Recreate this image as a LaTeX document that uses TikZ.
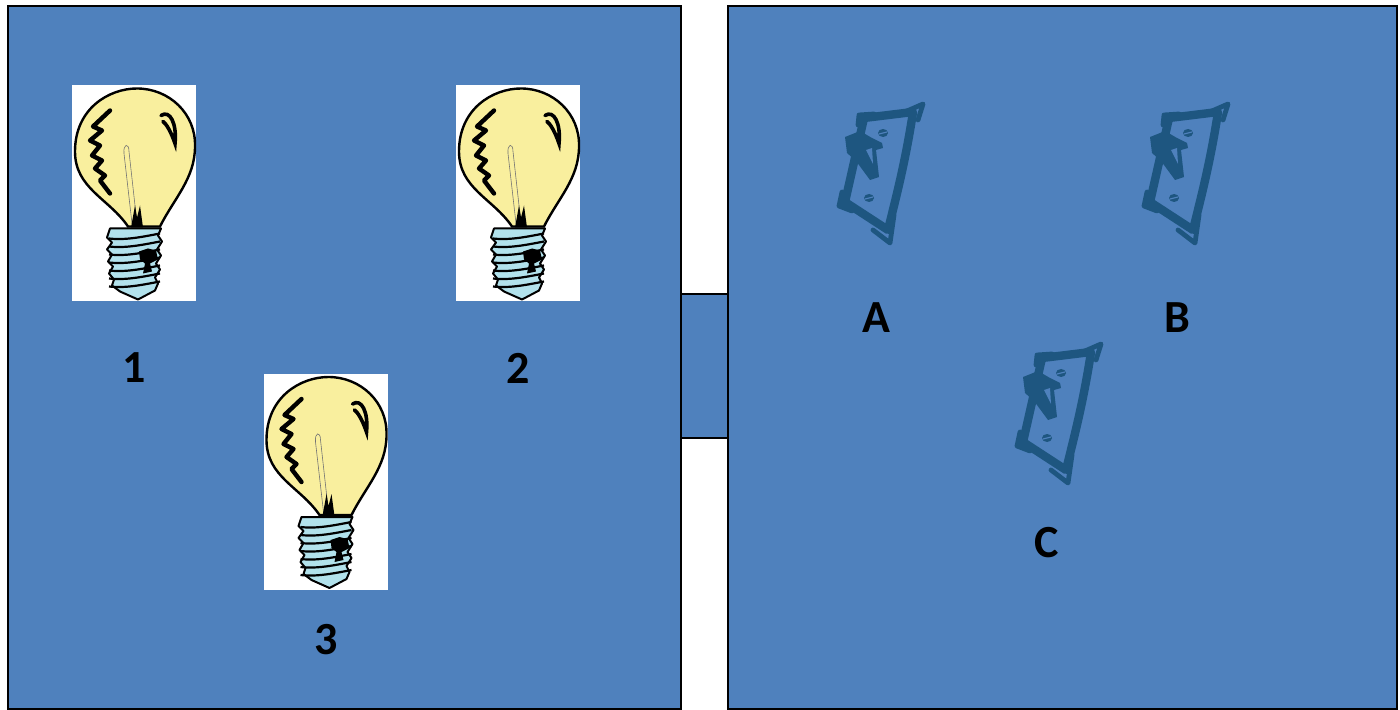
\documentclass[tikz,border=0pt]{standalone}
\usepackage{fontspec}
\setmainfont{Carlito}
\definecolor{slate}{HTML}{4F81BD}
\definecolor{glass}{HTML}{F9EF9E}
\definecolor{thread}{HTML}{B2E2EC}
\definecolor{plate}{HTML}{1E5680}
\tikzset{
  panel/.style={draw=black,fill=slate,line width=1.1pt},
  bulbcard/.style={fill=white,draw=none,minimum width=62pt,minimum height=108pt,inner sep=0pt},
  tag/.style={font=\fontsize{23}{27}\selectfont\bfseries,text=black,inner sep=0pt},
  tick/.style={draw=plate,line width=2.4pt,line join=round,line cap=round},
  bulb/.pic={
    % glass
    \draw[line width=1.2pt,fill=glass] (-6,33) .. controls (-25,5) and (-59,-5) .. (-59,-42)
      .. controls (-59,-85) and (-25,-105) .. (3,-105)
      .. controls (35,-105) and (62,-80) .. (61,-47)
      .. controls (61,-15) and (40,5) .. (26,33) -- cycle;
    % filament
    \draw[line width=0.3pt,black!55] (-2,30) -- (-10,-40) .. controls (-11,-50) and (-5,-51) .. (-5,-42) -- (3,30);
    \fill (-3,34) -- (1,12) -- (3,24) -- (6,12) -- (9,34) -- cycle;
    % reflections
    \draw[line width=2.2pt,line join=round,line cap=round] (-24,-83) -- (-41,-67) -- (-32,-63) -- (-44,-53)
      -- (-34,-48) -- (-42,-38) -- (-32,-33) -- (-39,-25) -- (-29,-18) -- (-34,-13) -- (-24,0);
    \draw[line width=1.8pt,line cap=round] (27,-78) .. controls (36,-84) and (43,-70) .. (41,-50)
      .. controls (37,-62) and (32,-70) .. (29,-72);
    % screw base
    \draw[line width=1pt,fill=thread,line join=round] (-24,35) -- (-27,44) -- (-22,49) -- (-27,56) -- (-22,61)
      -- (-26,68) -- (-21,73) -- (-25,80) -- (-20,86) -- (-22,92) -- (-14,98) -- (4,106) -- (21,97)
      -- (24,90) -- (21,84) -- (26,76) -- (22,70) -- (27,62) -- (23,56) -- (28,48) -- (24,42) -- (27,35) -- cycle;
    \foreach \y in {43,51,59,67,75,83,91}
      \draw[line width=1.1pt] (-25,\y+2) .. controls (-8,\y+4) and (10,\y) .. (26,\y-3);
    \fill (5,58) -- (14,55) -- (22,57) -- (24,66) -- (16,70) -- (18,78) -- (9,80) -- (11,70) -- (6,66) -- cycle;
  },
  toggle/.pic={
    % plate
    \draw[draw=plate,line width=4.2pt,line join=round] (-16,-57) -- (33,-63)
      .. controls (25,-10) and (14,30) .. (8,55) -- (-35,27) -- cycle;
    % corner ticks
    \draw[tick] (27,-64) -- (43,-71) -- (38,-55);
    \draw[tick] (-6,-61) -- (-21,-60) -- (-22,-50);
    \draw[tick] (-38,17) -- (-41,31) -- (-28,36);
    \draw[tick] (14,40) -- (10,68) -- (-7,55);
    % lever
    \fill[plate] (-35,-38) -- (-20,-44) -- (-8,-37) -- (2,-32) -- (3,-27) -- (-4,-25) -- (-1,2)
      -- (-10,5) -- (-24,-14) -- (-33,-22) -- cycle;
    \fill[slate] (-14,-25) -- (-8,-27) -- (-7,-11) -- cycle;
    % screws
    \fill[plate] (3,-42) ellipse (5 and 4);
    \fill[plate] (-11,23) ellipse (5 and 4);
    \draw[slate,line width=0.6pt] (-1,-41) -- (7,-43) (-15,24) -- (-7,22);
  }
}

\begin{document}
\begin{tikzpicture}[x=0.5pt,y=-0.5pt]
  \fill[white] (0,0) rectangle (1400,710);
  \useasboundingbox (0,0) rectangle (1400,710);

  \draw[panel] (8,6) rectangle (681,709);
  \draw[panel] (728,6) rectangle (1397,709);
  \draw[panel] (681,294) rectangle (728,438);

  % bulbs
  \node[bulbcard] (bulb1) at (134,193.5) {};
  \node[bulbcard] (bulb2) at (518,193.5) {};
  \node[bulbcard] (bulb3) at (325.5,482) {};
  \foreach \b in {bulb1,bulb2,bulb3}
    \pic at (\b) {bulb};

  \node[tag] (one) at (134,368) {1};
  \node[tag] (two) at (518,368) {2};
  \node[tag] (three) at (326,640) {3};

  % switches
  \coordinate (swA) at (880,175);
  \coordinate (swB) at (1185,175);
  \coordinate (swC) at (1058,415);
  \foreach \s in {swA,swB,swC}
    \pic at (\s) {toggle};

  \node[tag] (labA) at (876,318) {A};
  \node[tag] (labB) at (1177,318) {B};
  \node[tag] (labC) at (1047,543) {C};
\end{tikzpicture}
\end{document}
